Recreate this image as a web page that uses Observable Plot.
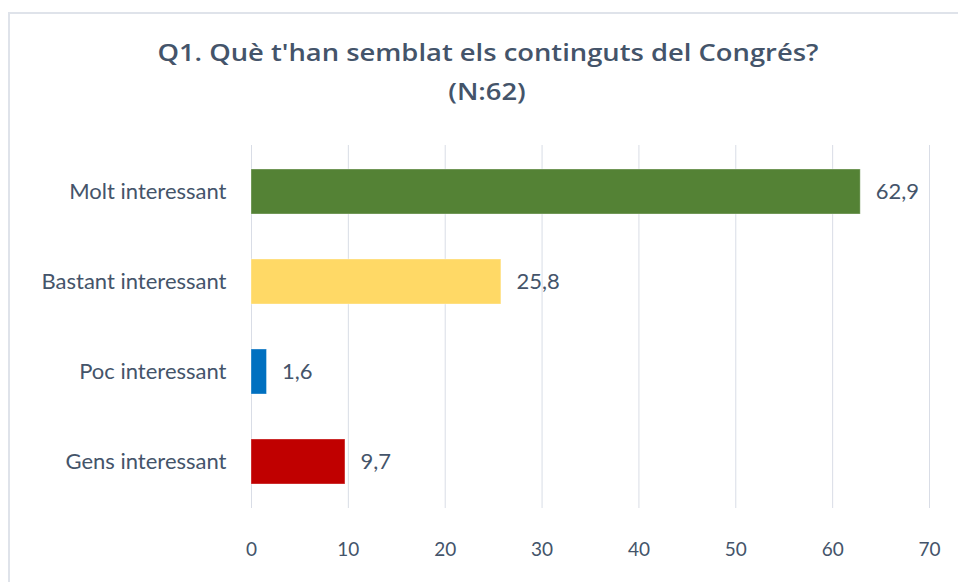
<!DOCTYPE html>
<html>
<head>
<meta charset="utf-8">
<script src="https://cdn.jsdelivr.net/npm/d3@7"></script>
<script src="https://cdn.jsdelivr.net/npm/@observablehq/plot@0.6"></script>
<style>
  html, body { margin: 0; padding: 0; background: #fff; }
  #wrap { position: relative; width: 958px; height: 582px; overflow: hidden; background: #fff; font-family: Lato, "Open Sans", sans-serif; }
  #frame { position: absolute; left: 8px; top: 12px; width: 1000px; height: 700px; border: 2px solid #dfe3ea; box-sizing: border-box; }
  #title { position: absolute; left: 0; top: 0; width: 958px; height: 125px; }
  #title div { position: absolute; left: 0; width: 975px; text-align: center; color: #44546A; font-family: "Open Sans", sans-serif; font-weight: 600; font-size: 24px; white-space: nowrap; }
  #title span { display: inline-block; transform-origin: 50% 50%; }
  #chart { position: absolute; left: 0; top: 125px; }
</style>
</head>
<body>
<div id="wrap">
  <div id="frame"></div>
  <div id="title">
    <div id="t1" style="top:35px"><span>Q1. Què t'han semblat els continguts del Congrés?</span></div>
    <div id="t2" style="top:74px"><span>(N:62)</span></div>
  </div>
  <div id="chart"></div>
</div>
<script>
const categories = ["Molt interessant", "Bastant interessant", "Poc interessant", "Gens interessant"];
const values = [62.9, 25.8, 1.6, 9.7];
const colors = ["#548235", "#FFD966", "#0070C0", "#C00000"];
const xTicks = [0, 10, 20, 30, 40, 50, 60, 70];

const data = categories.map((c, i) => ({category: c, value: values[i], color: colors[i]}));
const fmt = v => v.toFixed(1).replace(".", ",");

const plot = Plot.plot({
  width: 958,
  height: 457,
  marginLeft: 251,
  marginRight: 29,
  marginTop: 20,
  marginBottom: 74,
  style: { fontFamily: "Lato, 'Open Sans', sans-serif", fontSize: "22px", color: "#44546A", background: "transparent" },
  x: { domain: [0, 70], ticks: xTicks, tickSize: 0, tickPadding: 34, tickFormat: d => String(d), label: null },
  y: { domain: categories, paddingInner: 0.5, paddingOuter: 0.25, tickSize: 0, tickPadding: 25, label: null },
  marks: [
    Plot.gridX(xTicks, { stroke: "#d9dde6", strokeOpacity: 1, strokeWidth: 1 }),
    Plot.barX(data, { x: "value", y: "category", fill: "color", stroke: "#ffffff", strokeOpacity: 0.35, strokeWidth: 1 }),
    Plot.text(data, { x: "value", y: "category", text: d => fmt(d.value), textAnchor: "start", dx: 15, fill: "#44546A", fontSize: 22 }),
    Plot.axisY({ tickSize: 0, tickPadding: 25, fontSize: 22 }),
    Plot.axisX({ ticks: xTicks, tickSize: 0, tickPadding: 34, fontSize: 19, tickFormat: d => String(d) })
  ]
});
document.getElementById("chart").appendChild(plot);

// the reference title is horizontally wider; stretch to match its measured width
const s1 = document.querySelector("#t1 span");
const s2 = document.querySelector("#t2 span");
const k = 661 / s1.getBoundingClientRect().width;
s1.style.transform = `scaleX(${k})`;
s2.style.transform = `scaleX(${k})`;
</script>
</body>
</html>
